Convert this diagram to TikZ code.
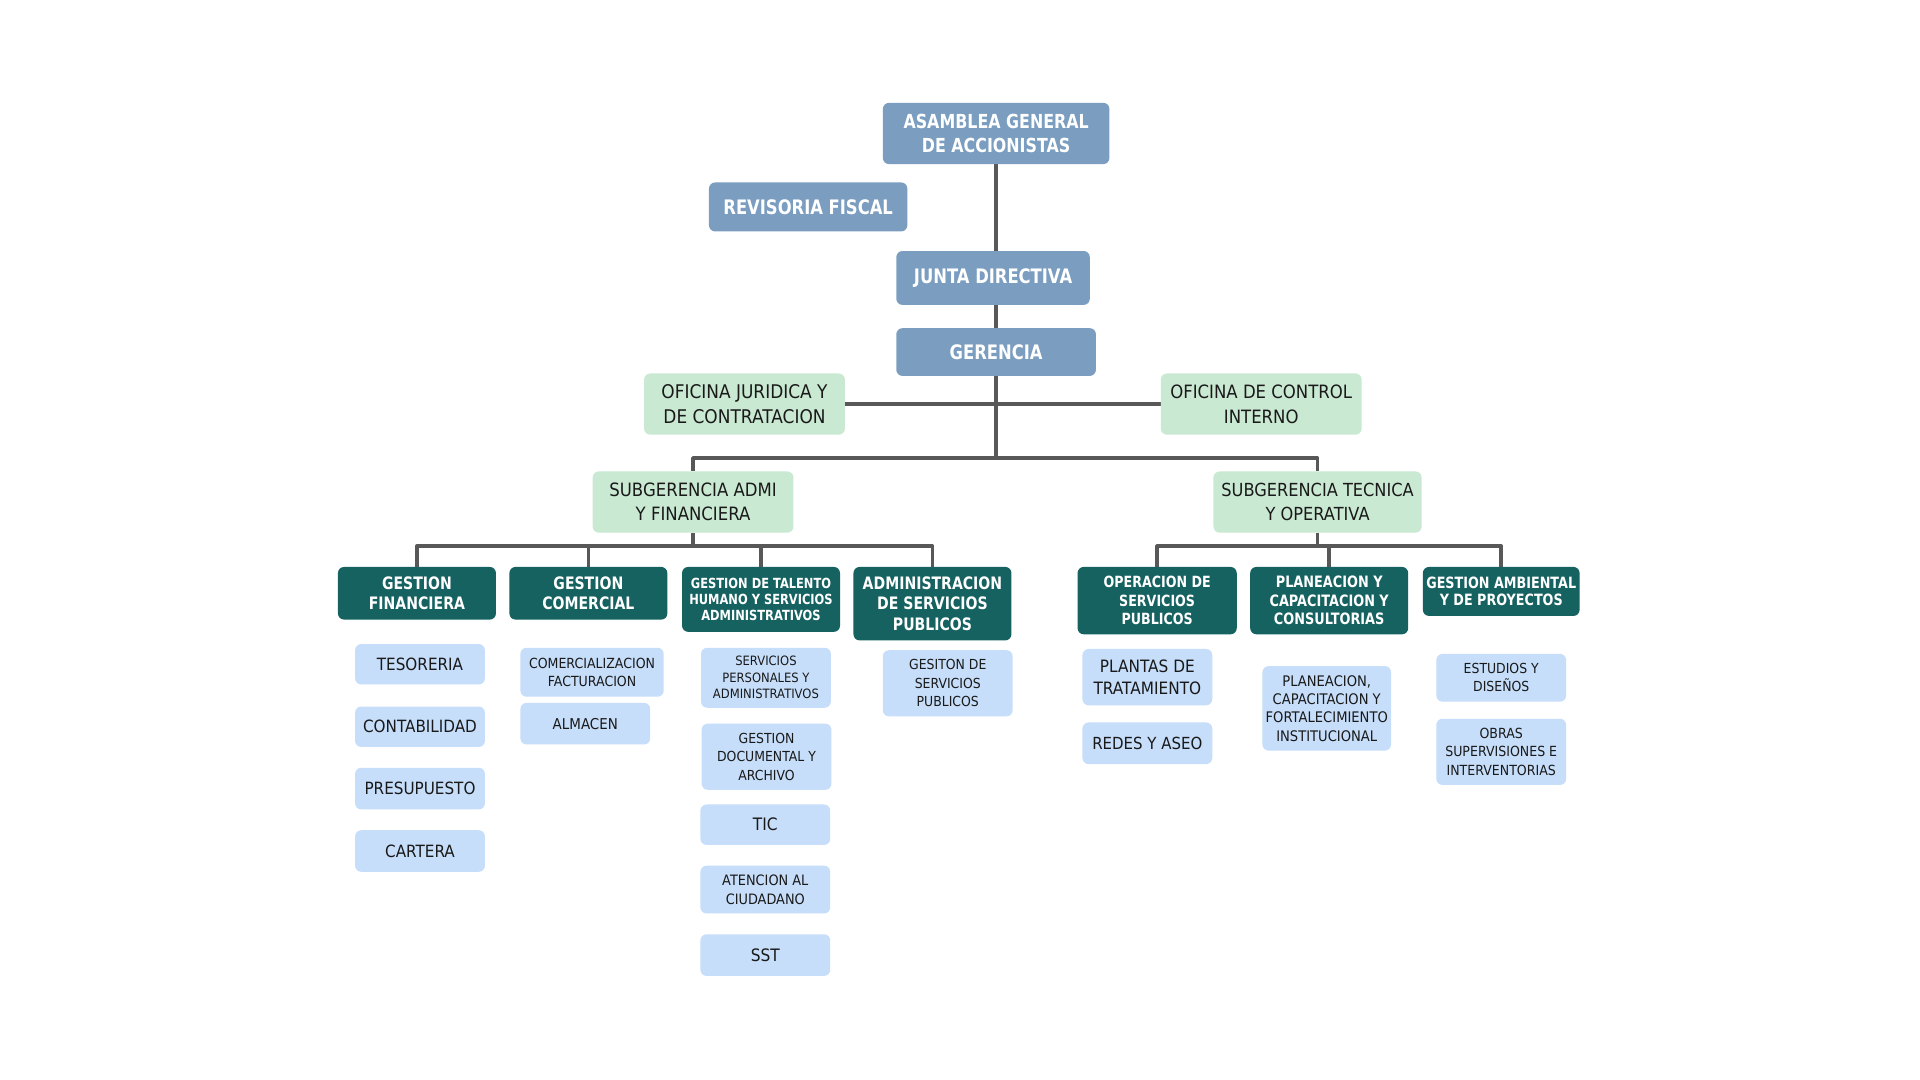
\documentclass[tikz,border=0pt]{standalone}
\usepackage{fontspec}
\setmainfont{DejaVu Sans}[FakeStretch=0.9]
\newfontfamily\bnarrow{DejaVu Sans}[FakeStretch=0.82]
\usetikzlibrary{backgrounds}
\newcommand{\myfs}[2]{\fontsize{#1}{#2}\selectfont}
\definecolor{topblue}{RGB}{122,157,192}
\definecolor{lgreen}{RGB}{202,233,211}
\definecolor{tealc}{RGB}{22,98,97}
\definecolor{lblue}{RGB}{198,222,250}
\definecolor{linec}{RGB}{88,88,88}
\definecolor{txt}{RGB}{25,25,25}
\tikzset{
  box/.style={rounded corners=5pt, inner sep=0pt, align=center, anchor=center},
  topb/.style={box, fill=topblue, text=white, font={\bnarrow\bfseries\myfs{16.3}{20}}},
  grn/.style={box, fill=lgreen, text=txt, font={\myfs{15}{20}}},
  tealb/.style={box, fill=tealc, text=white},
  leaf/.style={box, fill=lblue, text=txt},
  conn/.style={draw=linec, line width=3pt, line join=round}
}
\begin{document}
\begin{tikzpicture}[x=1pt,y=-1pt]
\useasboundingbox (0,0) rectangle (1568,882);
% top level
\node[topb, minimum width=185pt, minimum height=50pt, font={\bnarrow\bfseries\myfs{15.8}{20}}] (asam) at (813.5,109) {ASAMBLEA GENERAL\\DE ACCIONISTAS};
\node[topb, minimum width=162pt, minimum height=40pt] (rev) at (660,169) {REVISORIA FISCAL};
\node[topb, minimum width=158pt, minimum height=44pt] (junta) at (811,227) {JUNTA DIRECTIVA};
\node[topb, minimum width=163pt, minimum height=39pt] (ger) at (813.5,287.5) {GERENCIA};
\node[grn, minimum width=164pt, minimum height=50pt, font={\myfs{15.4}{20}}] (ofjur) at (608,330) {OFICINA JURIDICA Y\\DE CONTRATACION};
\node[grn, minimum width=164pt, minimum height=50pt] (ofctrl) at (1030,330) {OFICINA DE CONTROL\\INTERNO};
\node[grn, minimum width=164pt, minimum height=50pt] (subadm) at (566,410) {SUBGERENCIA ADMI\\Y FINANCIERA};
\node[grn, minimum width=170pt, minimum height=50pt, font={\myfs{14.7}{20}}] (subtec) at (1076,410) {SUBGERENCIA TECNICA\\Y OPERATIVA};
% teal level
\node[tealb, minimum width=129pt, minimum height=43pt, font={\bnarrow\bfseries\myfs{14}{16}}] (gfin) at (340.5,484.5) {GESTION\\FINANCIERA};
\node[tealb, minimum width=129pt, minimum height=43pt, font={\bnarrow\bfseries\myfs{14}{16}}] (gcom) at (480.5,484.5) {GESTION\\COMERCIAL};
\node[tealb, minimum width=129pt, minimum height=53pt, font={\bnarrow\bfseries\myfs{11.4}{13}}] (gth) at (621.5,489.5) {GESTION DE TALENTO\\HUMANO Y SERVICIOS\\ADMINISTRATIVOS};
\node[tealb, minimum width=129pt, minimum height=60pt, font={\bnarrow\bfseries\myfs{14}{16.5}}] (asp) at (761.5,493) {ADMINISTRACION\\DE SERVICIOS\\PUBLICOS};
\node[tealb, minimum width=130pt, minimum height=55pt, font={\bnarrow\bfseries\myfs{12.6}{15}}] (osp) at (945,490.5) {OPERACION DE\\SERVICIOS\\PUBLICOS};
\node[tealb, minimum width=129pt, minimum height=55pt, font={\bnarrow\bfseries\myfs{12.8}{15}}] (pcc) at (1085.5,490.5) {PLANEACION Y\\CAPACITACION Y\\CONSULTORIAS};
\node[tealb, minimum width=128pt, minimum height=40pt, font={\bnarrow\bfseries\myfs{12.7}{14}}] (gam) at (1226,483) {GESTION AMBIENTAL\\Y DE PROYECTOS};
% leaves
\node[leaf, minimum width=106pt, minimum height=33pt, font={\myfs{13.8}{16}}] (tes) at (343,542.5) {TESORERIA};
\node[leaf, minimum width=106pt, minimum height=33pt, font={\myfs{13.8}{16}}] (cont) at (343,593.5) {CONTABILIDAD};
\node[leaf, minimum width=106pt, minimum height=34pt, font={\myfs{13.8}{16}}] (pres) at (343,644) {PRESUPUESTO};
\node[leaf, minimum width=106pt, minimum height=34pt, font={\myfs{13.8}{16}}] (cart) at (343,695) {CARTERA};
\node[leaf, minimum width=117pt, minimum height=40pt, font={\myfs{11.4}{15}}] (comf) at (483.5,549) {COMERCIALIZACION\\FACTURACION};
\node[leaf, minimum width=106pt, minimum height=34pt, font={\myfs{12.2}{15}}] (alm) at (478,591) {ALMACEN};
\node[leaf, minimum width=106pt, minimum height=49pt, font={\myfs{10.5}{13.5}}] (spa) at (625.5,553.5) {SERVICIOS\\PERSONALES Y\\ADMINISTRATIVOS};
\node[leaf, minimum width=106pt, minimum height=54pt, font={\myfs{11.3}{15}}] (gda) at (626,618) {GESTION\\DOCUMENTAL Y\\ARCHIVO};
\node[leaf, minimum width=106pt, minimum height=33pt, font={\myfs{14}{16}}] (tic) at (625,673.5) {TIC};
\node[leaf, minimum width=106pt, minimum height=39pt, font={\myfs{11.7}{16}}] (aten) at (625,726.5) {ATENCION AL\\CIUDADANO};
\node[leaf, minimum width=106pt, minimum height=34pt, font={\myfs{14}{16}}] (sst) at (625,780) {SST};
\node[leaf, minimum width=106pt, minimum height=54pt, font={\myfs{11.3}{15}}] (gsp) at (774,558) {GESITON DE\\SERVICIOS\\PUBLICOS};
\node[leaf, minimum width=106pt, minimum height=46pt, font={\myfs{13.9}{18}}] (plan) at (937,553) {PLANTAS DE\\TRATAMIENTO};
\node[leaf, minimum width=106pt, minimum height=34pt, font={\myfs{13.6}{18}}] (redes) at (937,607) {REDES Y ASEO};
\node[leaf, minimum width=105pt, minimum height=69pt, font={\myfs{11.9}{15}}] (pcf) at (1083.5,578.5) {PLANEACION,\\CAPACITACION Y\\FORTALECIMIENTO\\INSTITUCIONAL};
\node[leaf, minimum width=106pt, minimum height=39pt, font={\myfs{11.3}{15}}] (est) at (1226,553.5) {ESTUDIOS Y\\DISEÑOS};
\node[leaf, minimum width=106pt, minimum height=54pt, font={\myfs{11.4}{15}}] (obr) at (1226,614) {OBRAS\\SUPERVISIONES E\\INTERVENTORIAS};
% connectors
\coordinate (bus) at (813.5,374);
\coordinate (lbus) at (566,446);
\coordinate (rbus) at (1076,446);
\begin{scope}[on background layer]
\fill[white] (0,0) rectangle (1568,882);
\draw[conn] (asam.south) -- (bus);
\draw[conn] (ofjur.east) -- (ofctrl.west);
\draw[conn] (subadm.north) |- (bus) -| (subtec.north);
\draw[conn] (subadm.south) -- (lbus);
\draw[conn] (gfin.north) |- (lbus) -| (asp.north);
\draw[conn] (gcom.north) -- (gcom.north |- lbus);
\draw[conn] (gth.north) -- (gth.north |- lbus);
\draw[conn] (subtec.south) -- (rbus);
\draw[conn] (osp.north) |- (rbus) -| (gam.north);
\draw[conn] (pcc.north) -- (pcc.north |- rbus);
\end{scope}
\end{tikzpicture}
\end{document}
